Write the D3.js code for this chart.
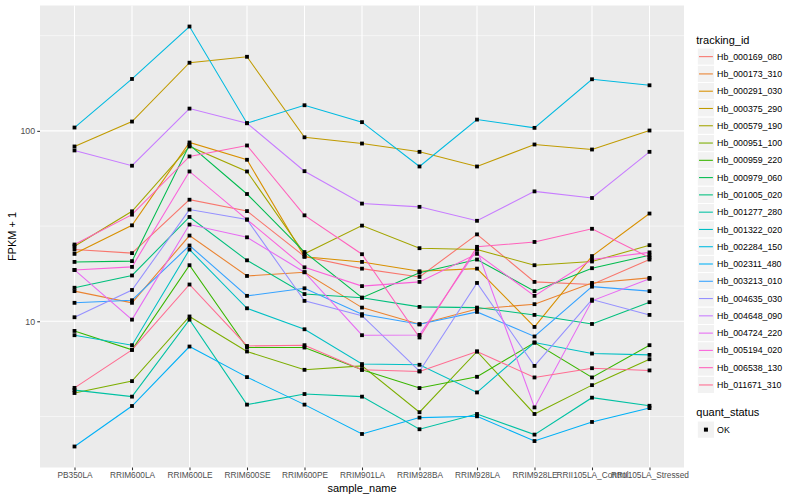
<!DOCTYPE html>
<html>
<head>
<meta charset="utf-8">
<script src="https://cdn.jsdelivr.net/npm/d3@7"></script>
<style>
body { margin: 0; background: #fff; }
text { font-family: "Liberation Sans", Arial, Helvetica, sans-serif; }
</style>
</head>
<body>
<svg id="chart" width="800" height="500"></svg>
<script>
// x categories
const samples = ["PB350LA", "RRIM600LA", "RRIM600LE", "RRIM600SE", "RRIM600PE", "RRIM901LA",
                 "RRIM928BA", "RRIM928LA", "RRIM928LE", "RRII105LA_Control", "RRII105LA_Stressed"];

// FPKM + 1 per tracking id, in sample order
const hb_000169_080 = [23.8, 22.8, 43.5, 37.9, 21.9, 18.9, 17.1, 28.6, 16.1, 15.6, 21.1];
const hb_000173_310 = [14.4, 12.5, 28.2, 17.3, 18.1, 11.8, 9.64, 11.6, 12.3, 15.9, 16.9];
const hb_000291_030 = [22.6, 31.9, 86.9, 70.5, 21.8, 20.5, 18.3, 18.9, 9.34, 22.0, 36.8];
const hb_000375_290 = [82.8, 111.9, 227.9, 244.9, 92.5, 85.8, 77.6, 65.0, 84.8, 79.8, 100.4];
const hb_000579_190 = [24.8, 37.8, 82.8, 61.2, 22.6, 31.8, 24.2, 23.8, 19.7, 20.6, 25.1];
const hb_000951_100 = [4.20, 4.85, 10.6, 6.94, 5.56, 5.83, 3.33, 6.94, 3.26, 4.62, 6.32];
const hb_000959_220 = [8.90, 7.08, 19.7, 7.28, 7.28, 5.56, 4.46, 5.11, 7.73, 5.07, 7.49];
const hb_000979_060 = [20.5, 20.7, 84.5, 46.6, 23.1, 13.3, 18.0, 21.1, 14.4, 19.0, 22.2];
const hb_001005_020 = [15.0, 17.4, 35.3, 20.9, 13.9, 13.3, 11.9, 11.8, 10.8, 9.68, 12.6];
const hb_001277_280 = [4.35, 4.02, 10.2, 3.65, 4.15, 4.02, 2.71, 3.26, 2.54, 3.97, 3.60];
const hb_001322_020 = [8.45, 7.49, 23.8, 11.7, 9.08, 5.96, 5.91, 4.23, 7.73, 6.77, 6.66];
const hb_002284_150 = [104.1, 187.3, 353.2, 109.7, 136.3, 111.1, 65.0, 114.6, 103.7, 186.6, 173.5];
const hb_002311_480 = [2.20, 3.59, 7.37, 5.09, 3.65, 2.56, 3.12, 3.17, 2.35, 2.96, 3.50];
const hb_003213_010 = [12.5, 12.9, 25.0, 13.6, 14.9, 10.9, 9.64, 11.2, 8.32, 15.2, 14.4];
const hb_004635_030 = [10.5, 14.6, 38.6, 34.2, 12.8, 10.7, 5.47, 15.9, 5.83, 13.0, 10.8];
const hb_004648_090 = [78.9, 65.6, 130.9, 109.7, 61.4, 41.5, 39.9, 33.7, 48.1, 44.4, 77.6];
const hb_004724_220 = [18.6, 10.2, 32.2, 27.6, 18.1, 8.45, 8.48, 23.8, 3.53, 12.8, 16.7];
const hb_005194_020 = [18.6, 19.3, 61.2, 34.2, 19.2, 15.3, 16.1, 22.6, 13.6, 21.1, 23.0];
const hb_006538_130 = [25.3, 36.3, 73.4, 83.8, 36.0, 22.5, 8.22, 24.6, 26.1, 30.6, 21.6];
const hb_011671_310 = [4.47, 7.08, 15.6, 7.42, 7.49, 5.56, 5.45, 6.94, 5.07, 5.67, 5.52];

const trackingIds = ["Hb_000169_080", "Hb_000173_310", "Hb_000291_030", "Hb_000375_290", "Hb_000579_190",
                     "Hb_000951_100", "Hb_000959_220", "Hb_000979_060", "Hb_001005_020", "Hb_001277_280",
                     "Hb_001322_020", "Hb_002284_150", "Hb_002311_480", "Hb_003213_010", "Hb_004635_030",
                     "Hb_004648_090", "Hb_004724_220", "Hb_005194_020", "Hb_006538_130", "Hb_011671_310"];
const seriesValues = [hb_000169_080, hb_000173_310, hb_000291_030, hb_000375_290, hb_000579_190,
                      hb_000951_100, hb_000959_220, hb_000979_060, hb_001005_020, hb_001277_280,
                      hb_001322_020, hb_002284_150, hb_002311_480, hb_003213_010, hb_004635_030,
                      hb_004648_090, hb_004724_220, hb_005194_020, hb_006538_130, hb_011671_310];
const seriesColors = ["#F8766D", "#EA8331", "#D89000", "#C09B00", "#A3A500", "#7CAE00", "#39B600",
                      "#00BB4E", "#00BF7D", "#00C1A3", "#00BFC4", "#00BAE0", "#00B0F6", "#35A2FF",
                      "#9590FF", "#C77CFF", "#E76BF3", "#FA62DB", "#FF62BC", "#FF6C91"];
const yTicks = [10, 100];
const statusLabels = ["OK"];

let series = trackingIds.map((id, i) => ({
    id: id,
    color: seriesColors[i],
    values: seriesValues[i].map((v, j) => ({sample: samples[j], value: v}))
}));

let svg = d3.select("#chart");
let panel = {left: 40, right: 684, top: 5.5, bottom: 467.5};

let xScale = d3.scalePoint()
                .domain(samples)
                .range([panel.left, panel.right])
                .padding(0.6);

let allValues = seriesValues.flat();
let lo = Math.log10(d3.min(allValues)), hi = Math.log10(d3.max(allValues));
let expand = (hi - lo) * 0.05;
let yScale = d3.scaleLog()
                .domain([Math.pow(10, lo - expand), Math.pow(10, hi + expand)])
                .range([panel.bottom, panel.top]);

// panel background
svg.append("rect")
    .attr("x", panel.left)
    .attr("y", panel.top)
    .attr("width", panel.right - panel.left)
    .attr("height", panel.bottom - panel.top)
    .attr("fill", "#EBEBEB");

// minor grid at half decades
let minor = [0.5, 1.5, 2.5].map(p => Math.pow(10, p))
                .filter(v => v > yScale.domain()[0] && v < yScale.domain()[1]);
svg.append("g").selectAll("line")
    .data(minor)
    .enter().append("line")
    .attr("x1", panel.left).attr("x2", panel.right)
    .attr("y1", d => yScale(d)).attr("y2", d => yScale(d))
    .attr("stroke", "#fff").attr("stroke-width", 0.53);

svg.append("g").selectAll("line")
    .data(yTicks)
    .enter().append("line")
    .attr("x1", panel.left).attr("x2", panel.right)
    .attr("y1", d => yScale(d)).attr("y2", d => yScale(d))
    .attr("stroke", "#fff").attr("stroke-width", 1.07);

svg.append("g").selectAll("line")
    .data(samples)
    .enter().append("line")
    .attr("x1", d => xScale(d)).attr("x2", d => xScale(d))
    .attr("y1", panel.top).attr("y2", panel.bottom)
    .attr("stroke", "#fff").attr("stroke-width", 1.07);

// axes
let yAxis = d3.axisLeft(yScale)
                .tickValues(yTicks)
                .tickFormat(d3.format("d"))
                .tickSize(2.75)
                .tickPadding(2.2);
let gy = svg.append("g")
    .attr("transform", "translate(" + panel.left + ",0)")
    .call(yAxis);

let xAxis = d3.axisBottom(xScale)
                .tickSize(2.75)
                .tickPadding(2.2);
let gx = svg.append("g")
    .attr("transform", "translate(0," + panel.bottom + ")")
    .call(xAxis);

[gx, gy].forEach(g => {
    g.select(".domain").remove();
    g.selectAll(".tick line").attr("stroke", "#333333").attr("stroke-width", 1.07);
    g.selectAll(".tick text")
        .attr("fill", "#4D4D4D")
        .style("font-size", "8.8px")
        .style("font-family", "'Liberation Sans', Arial, sans-serif");
});
// the sample labels are drawn a little narrower in the original
gx.selectAll(".tick text").style("font-size", "8.3px");

// axis titles
svg.append("text")
    .attr("x", (panel.left + panel.right) / 2)
    .attr("y", 492)
    .style("text-anchor", "middle")
    .style("font-size", "11px")
    .text("sample_name");

svg.append("text")
    .attr("transform", "translate(16," + ((panel.top + panel.bottom) / 2) + ") rotate(-90)")
    .style("text-anchor", "middle")
    .style("font-size", "11px")
    .text("FPKM + 1");

// lines
let line = d3.line()
                .x(d => xScale(d.sample))
                .y(d => yScale(d.value));

svg.append("g").selectAll("path")
    .data(series)
    .enter().append("path")
    .attr("d", d => line(d.values))
    .attr("fill", "none")
    .attr("stroke", d => d.color)
    .attr("stroke-width", 1.07);

// points
let pts = series.flatMap(s => s.values);
svg.append("g").selectAll("rect")
    .data(pts)
    .enter().append("rect")
    .attr("x", d => xScale(d.sample) - 1.9)
    .attr("y", d => yScale(d.value) - 1.9)
    .attr("width", 3.8)
    .attr("height", 3.8)
    .attr("fill", "#000");

// legend
let legendX = 697.3, keySize = 17.28, firstKeyTop = 48;
let legend = svg.append("g");
legend.append("text")
    .attr("x", legendX - 1)
    .attr("y", 44)
    .style("font-size", "11px")
    .text("tracking_id");

let rows = legend.selectAll(".row")
    .data(series)
    .enter().append("g")
    .attr("class", "row")
    .attr("transform", (d, i) => "translate(" + legendX + "," + (firstKeyTop + i * keySize) + ")");
rows.append("rect")
    .attr("width", keySize).attr("height", keySize)
    .attr("fill", "#F2F2F2").attr("stroke", "#fff").attr("stroke-width", 1);
rows.append("line")
    .attr("x1", 1.7).attr("x2", keySize - 1.7)
    .attr("y1", keySize / 2).attr("y2", keySize / 2)
    .attr("stroke", d => d.color).attr("stroke-width", 1.07);
rows.append("text")
    .attr("x", keySize + 2.5)
    .attr("y", keySize / 2 + 3.1)
    .style("font-size", "8.8px")
    .text(d => d.id);

let statusTop = 421;
legend.append("text")
    .attr("x", legendX - 1)
    .attr("y", statusTop - 5)
    .style("font-size", "11px")
    .text("quant_status");

let srows = legend.selectAll(".srow")
    .data(statusLabels)
    .enter().append("g")
    .attr("class", "srow")
    .attr("transform", (d, i) => "translate(" + legendX + "," + (statusTop + i * keySize) + ")");
srows.append("rect")
    .attr("width", keySize).attr("height", keySize)
    .attr("fill", "#F2F2F2").attr("stroke", "#fff").attr("stroke-width", 1);
srows.append("rect")
    .attr("x", keySize / 2 - 2).attr("y", keySize / 2 - 2)
    .attr("width", 4).attr("height", 4)
    .attr("fill", "#000");
srows.append("text")
    .attr("x", keySize + 2.5)
    .attr("y", keySize / 2 + 3.1)
    .style("font-size", "8.8px")
    .text(d => d);
</script>
</body>
</html>
